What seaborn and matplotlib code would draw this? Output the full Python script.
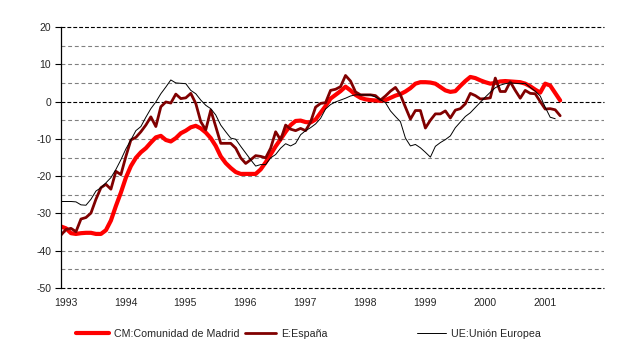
import numpy as np
import pandas as pd
import seaborn as sns
import matplotlib.pyplot as plt

# Monthly series, Dec 1992 - Apr 2001
madrid = [-33.5, -34.0, -35.3, -35.5, -35.3, -35.2, -35.2, -35.5, -35.5, -34.5,
          -31.9, -28.0, -24.4, -20.4, -17.3, -15.1, -13.6, -12.5, -11.0, -9.6,
          -9.2, -10.3, -10.7, -9.8, -8.5, -7.8, -6.9, -6.5, -7.2, -8.3,
          -9.8, -11.9, -14.7, -16.5, -17.8, -18.9, -19.4, -19.4, -19.4, -19.4,
          -18.2, -16.3, -14.2, -12.0, -10.1, -8.1, -6.3, -5.2, -5.1, -5.5,
          -5.6, -4.8, -3.0, -1.2, 0.8, 1.8, 2.8, 4.0, 3.0, 1.8,
          1.0, 0.6, 0.4, 0.3, 0.2, 0.4, 1.0, 1.6, 2.0, 2.7,
          3.6, 4.8, 5.2, 5.2, 5.1, 4.8, 3.9, 3.0, 2.6, 2.8,
          4.2, 5.5, 6.6, 6.3, 5.7, 5.2, 4.8, 5.0, 5.4, 5.5,
          5.4, 5.3, 5.2, 4.8, 4.1, 3.2, 2.4, 4.8, 4.3, 2.3,
          0.3]
espana = [-35.8, -34.3, -34.0, -34.9, -31.5, -31.1, -29.9, -26.2, -23.1, -22.2,
          -23.5, -18.7, -19.6, -14.7, -10.3, -9.6, -8.1, -6.3, -4.1, -6.7,
          -1.4, -0.1, -0.4, 2.0, 0.8, 1.0, 2.2, -0.5, -5.4, -7.6,
          -2.3, -6.7, -11.2, -11.2, -11.2, -12.5, -15.1, -16.6, -15.6, -14.5,
          -14.7, -15.1, -12.5, -8.1, -10.3, -6.3, -7.4, -7.8, -7.2, -7.8,
          -5.5, -1.5, -0.5, -0.3, 3.0, 3.3, 4.0, 7.0, 5.5, 2.6,
          1.8, 1.8, 1.8, 1.6, 0.4, 1.5, 2.8, 3.8, 1.8, -1.5,
          -4.7, -2.4, -2.4, -7.1, -5.0, -3.3, -3.3, -2.5, -4.4, -2.3,
          -1.9, -0.6, 2.2, 1.6, 0.7, 0.8, 1.0, 6.3, 2.7, 2.7,
          5.3, 3.0, 0.9, 3.0, 2.2, 2.1, 0.0, -2.0, -1.9, -2.2,
          -3.8]
ue = [-26.8, -26.8, -26.8, -26.9, -27.7, -27.8, -26.2, -24.0, -23.1, -21.8,
      -20.4, -18.2, -15.6, -12.7, -10.3, -7.8, -6.7, -4.2, -1.9, -0.1,
      2.1, 3.9, 5.8, 5.0, 4.9, 4.8, 3.0, 2.1, 0.4, -1.0,
      -1.9, -3.6, -6.3, -8.1, -9.8, -10.1, -12.0, -13.8, -15.6, -17.3,
      -16.9, -16.9, -15.1, -14.2, -12.5, -11.3, -11.9, -11.2, -8.9, -7.8,
      -7.0, -6.0, -4.5, -2.0, -0.8, -0.1, 0.4, 0.9, 1.5, 1.8,
      1.8, 1.8, 1.8, 1.2, 0.5, -0.3, -2.5, -4.0, -5.4, -9.8,
      -11.9, -11.5, -12.4, -13.6, -14.9, -12.0, -11.0, -10.2, -9.2, -7.0,
      -5.5, -4.0, -3.0, -1.6, -0.2, 1.2, 2.5, 3.7, 4.4, 4.8,
      5.0, 4.9, 4.8, 4.9, 3.8, 2.8, 1.5, -1.5, -4.2, -4.6,
      np.nan]

series = ['CM:Comunidad de Madrid', 'E:España', 'UE:Unión Europea']
colors = ['#ff0000', '#800000', '#000000']
widths = [3.0, 2.0, 0.7]
years = list(range(1993, 2002))

fecha = 1992.925 + np.arange(len(madrid)) / 12.0
data = pd.DataFrame({
    'fecha': np.concatenate([fecha, fecha, fecha]),
    'valor': madrid + espana + ue,
    'serie': [s for s in series for _ in range(len(fecha))],
})

sns.set_style('white')
plt.rcParams['font.family'] = ['Liberation Sans', 'DejaVu Sans']
plt.rcParams['axes.unicode_minus'] = False

# PLOT
fig = plt.figure(figsize=(6.4, 3.59), dpi=100)
ax = fig.add_axes([61 / 640, 1 - 288 / 359, 543 / 640, 261 / 359])

# horizontal guides
for level in range(-45, 20, 5):
    if level == 0:
        continue
    ax.axhline(level, color='#808080', linewidth=0.8,
               linestyle=(0, (3.5, 2.5)), zorder=0)
for level in [20, 0, -50]:
    ax.axhline(level, color='black', linewidth=0.8,
               linestyle=(0, (3.5, 1.8)), zorder=0, clip_on=False)

for name, color, lw in zip(series, colors, widths):
    sns.lineplot(data=data[data.serie == name], x='fecha', y='valor',
                 color=color, linewidth=lw, ax=ax, label=name, legend=False)

ax.set_xlim(1992.925, 2001.99)
ax.set_ylim(-50, 20)
ax.set_yticks(range(-50, 21, 10))
ax.set_xticks(years)
ax.set_xticklabels([str(y) for y in years])
ax.set(xlabel='', ylabel='')
ax.tick_params(axis='y', left=True, length=4, width=0.8, color='black',
               labelsize=7.5, pad=3)
ax.tick_params(axis='x', bottom=False, labelsize=7.5, pad=4)

for side in ['top', 'right', 'bottom']:
    ax.spines[side].set_visible(False)
ax.spines['left'].set_color('black')
ax.spines['left'].set_linewidth(0.9)

# legend: three separate entries laid out like the original
handles = ax.get_lines()[-3:]
anchors = [76 / 640, 245 / 640, 417 / 640]
lengths = [3.1, 2.9, 2.7]
for h, name, x0, hl in zip(handles, series, anchors, lengths):
    fig.legend([h], [name], loc='center left', bbox_to_anchor=(x0, 1 - 334 / 359),
               frameon=False, fontsize=7.7, handlelength=hl, handletextpad=0.5,
               borderpad=0, borderaxespad=0)

plt.savefig('out.png', dpi=100)
